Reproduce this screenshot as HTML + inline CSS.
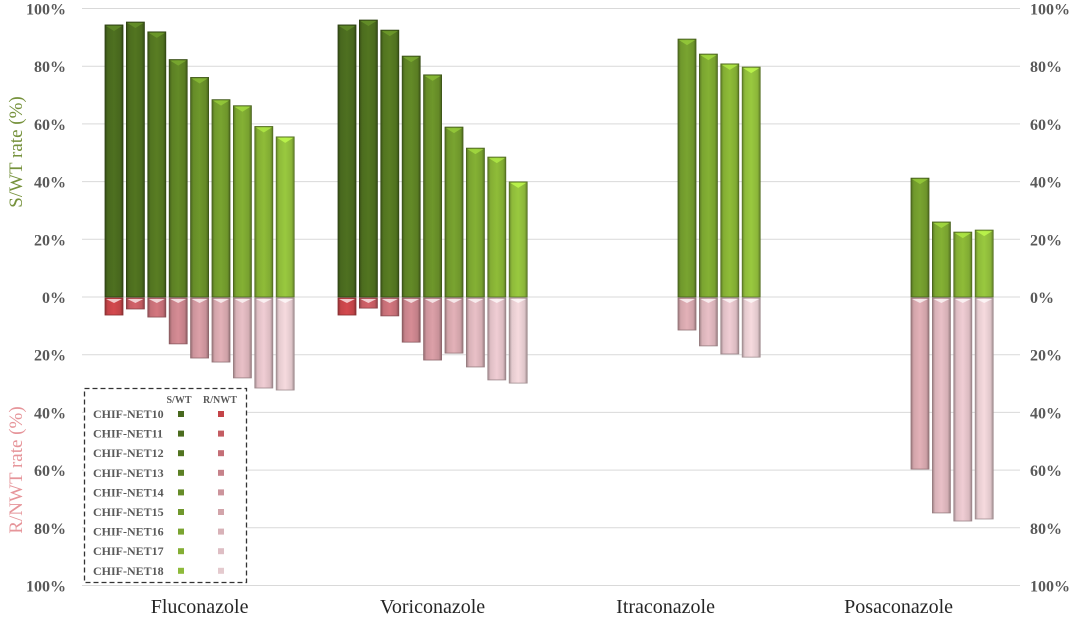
<!DOCTYPE html>
<html><head><meta charset="utf-8"><style>
html,body{margin:0;padding:0;background:#fff;}
svg{display:block;}
text{font-family:"Liberation Serif",serif;}
</style></head><body>
<svg id="c" width="1080" height="618" viewBox="0 0 1080 618" xmlns="http://www.w3.org/2000/svg">
<defs id="d"></defs>
<g id="g"></g>
</svg>
<script>
const NS="http://www.w3.org/2000/svg";
const svg=document.getElementById('c'),g=document.getElementById('g'),defs=document.getElementById('d');
function el(t,a,p){const e=document.createElementNS(NS,t);for(const k in a)e.setAttribute(k,a[k]);(p||g).appendChild(e);return e;}
const Y0=297,S=2.885;
for(let i=-5;i<=5;i++){
  const y=Y0-i*20*S;
  el('line',{x1:82,x2:1020,y1:y,y2:y,stroke:'#d9d9d9','stroke-width':1});
  const t=Math.abs(i*20)+'%';
  el('text',{x:66,y:y+6,'text-anchor':'end','font-size':16,'font-weight':'bold',fill:'#595959'}).textContent=t;
  el('text',{x:1030,y:y+6,'text-anchor':'start','font-size':16,'font-weight':'bold',fill:'#595959'}).textContent=t;
}
let t=el('text',{x:22,y:152,'text-anchor':'middle','font-size':19,fill:'#76923c',transform:'rotate(-90 22 152)'});t.textContent='S/WT rate (%)';
t=el('text',{x:22,y:470,'text-anchor':'middle','font-size':19,fill:'#e6959a',transform:'rotate(-90 22 470)'});t.textContent='R/NWT rate (%)';
const gc=[[72,104,30],[76,108,30],[82,116,32],[92,128,36],[102,140,40],[112,152,44],[122,164,48],[132,174,52],[142,186,58]];
const rc=[[196,68,72],[196,92,98],[196,110,118],[198,130,138],[204,148,156],[210,164,170],[216,178,184],[222,190,196],[228,202,206]];
function shade(c,f){return 'rgb('+c.map(v=>Math.max(0,Math.min(255,Math.round(v*f)))).join(',')+')';}
function grad(id,c){const lg=el('linearGradient',{id:id,x1:0,x2:1,y1:0,y2:0},defs);
 [[0,0.72],[0.15,1.0],[0.5,1.08],[0.85,0.98],[1,0.7]].forEach(s=>el('stop',{offset:s[0],'stop-color':shade(c,s[1])},lg));}
for(let i=0;i<9;i++){grad('g'+i,gc[i]);grad('r'+i,rc[i]);}
const data=[
 {s:[94.3,95.3,91.9,82.3,76.1,68.4,66.3,59.1,55.5],r:[5.9,3.8,6.6,15.9,20.8,22.2,27.7,31.2,31.9],k:0},
 {s:[94.3,96,92.5,83.5,77,58.9,51.6,48.5,39.9],r:[5.9,3.5,6.2,15.3,21.5,19.1,23.9,28.4,29.5],k:0},
 {s:[89.4,84.2,80.8,79.7],r:[11.1,16.6,19.4,20.5],k:5},
 {s:[41.2,26,22.5,23.2],r:[59.3,74.5,77.3,76.6],k:5}];
const names=['Fluconazole','Voriconazole','Itraconazole','Posaconazole'];
data.forEach((d,gi)=>{
 const base=105+gi*233;
 d.s.forEach((v,j)=>{const idx=j+d.k;const x=base+idx*21.4;const h=v*S;
  el('rect',{x:x,y:Y0-h,width:18,height:h,fill:'url(#g'+idx+')',stroke:shade(gc[idx],0.6),'stroke-width':0.8});
  el('polygon',{points:`${x+1},${Y0-h+1} ${x+17},${Y0-h+1} ${x+9},${Y0-h+6}`,fill:shade(gc[idx],1.35),opacity:0.8});
  const r=d.r[j]*S;
  el('rect',{x:x,y:Y0+1,width:18,height:r,fill:'url(#r'+idx+')',stroke:shade(rc[idx],0.7),'stroke-width':0.8});
  el('polygon',{points:`${x+1},${Y0+2} ${x+17},${Y0+2} ${x+9},${Y0+6}`,fill:'#fff',opacity:0.7});
 });
 el('text',{x:base+4*21.4+9,y:613,'text-anchor':'middle','font-size':20,fill:'#262626'}).textContent=names[gi];
});
el('rect',{x:84.5,y:388.5,width:162,height:194,fill:'#fff',stroke:'#333','stroke-width':1.3,'stroke-dasharray':'5,3'});
el('text',{x:179,y:403,'text-anchor':'middle','font-size':10,'font-weight':'bold',fill:'#595959'}).textContent='S/WT';
el('text',{x:220,y:403,'text-anchor':'middle','font-size':10,'font-weight':'bold',fill:'#595959'}).textContent='R/NWT';
for(let i=0;i<9;i++){const y=414+i*19.6;
 el('text',{x:93,y:y+4,'font-size':12,'font-weight':'bold',fill:'#595959'}).textContent='CHIF-NET'+(10+i);
 el('rect',{x:178,y:y-3,width:6,height:6,fill:shade(gc[i],1.0)});
 el('rect',{x:218,y:y-3,width:6,height:6,fill:shade(rc[i],1)});
}
</script>
</body></html>
